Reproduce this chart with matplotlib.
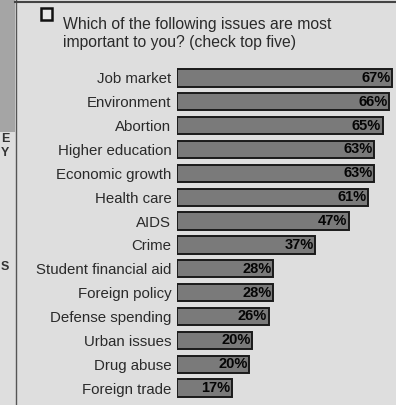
import matplotlib
matplotlib.use("Agg")
import matplotlib.pyplot as plt
from matplotlib.patches import Rectangle
from matplotlib.lines import Line2D

plt.rcParams["font.family"] = ["Liberation Sans", "DejaVu Sans"]

categories = ["Job market", "Environment", "Abortion", "Higher education",
              "Economic growth", "Health care", "AIDS", "Crime",
              "Student financial aid", "Foreign policy", "Defense spending",
              "Urban issues", "Drug abuse", "Foreign trade"]
values = [67, 66, 64, 61.5, 61.5, 59.5, 53.5, 43, 30, 30, 28.5, 23.5, 22.5, 17]
value_labels = ["67%", "66%", "65%", "63%", "63%", "61%", "47%", "37%",
                "28%", "28%", "26%", "20%", "20%", "17%"]
title_lines = ["Which of the following issues are most",
               "important to you? (check top five)"]

W, H = 396, 405
bg = "#dedede"
fig = plt.figure(figsize=(W / 100, H / 100), dpi=100, facecolor=bg)

def fx(px):
    return px / W

def fy(py):
    return 1 - py / H

# left neighbouring-article strip
fig.patches.append(Rectangle((0, fy(132)), fx(15), 132 / H, transform=fig.transFigure,
                             facecolor="#a5a5a5", edgecolor="none", zorder=0))
fig.lines.append(Line2D([fx(15.5), fx(15.5)], [0, 1], transform=fig.transFigure,
                        color="#555555", lw=1.0))
fig.lines.append(Line2D([fx(15), 1], [fy(1.5), fy(1.5)], transform=fig.transFigure,
                        color="#444444", lw=1.5))
for ch, py in [("E", 139), ("Y", 153), ("S", 267)]:
    fig.text(fx(1), fy(py), ch, fontsize=9, fontweight="bold", color="#333333",
             ha="left", va="center")

# title icon and text
fig.patches.append(Rectangle((fx(41), fy(20)), fx(11), 12 / H, transform=fig.transFigure,
                             facecolor="#e8e8e8", edgecolor="#111111", lw=1.8))
fig.text(fx(63), fy(25), title_lines[0], fontsize=11.3, color="#2a2a2a", ha="left", va="center")
fig.text(fx(63), fy(43), title_lines[1], fontsize=11.3, color="#2a2a2a", ha="left", va="center")

# bars
ax = fig.add_axes([fx(177), fy(400), fx(W - 177), (400 - 66) / H])
ax.set_facecolor("none")
ypos = list(range(len(categories)))
ax.barh(ypos, values, height=0.72, color="#7a7a7a", edgecolor="#1a1a1a", linewidth=1.4)
for y, v, lab in zip(ypos, values, value_labels):
    ax.text(v - 0.5, y, lab, ha="right", va="center", fontsize=10.5,
            fontweight="bold", color="#050505")
ax.set_xlim(0, 68.2)
ax.set_ylim(13.5, -0.5)
ax.set_yticks(ypos)
ax.set_yticklabels(categories, fontsize=10.8, color="#2a2a2a")
ax.tick_params(axis="y", length=0, pad=4)
ax.set_xticks([])
for s in ax.spines.values():
    s.set_visible(False)

fig.savefig("out.png", dpi=100, facecolor=bg)
